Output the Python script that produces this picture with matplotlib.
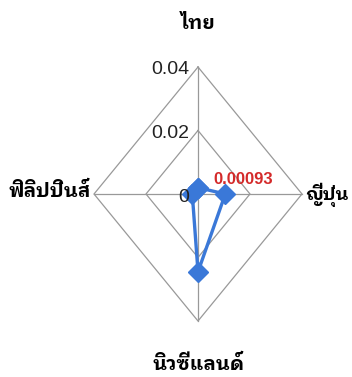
import numpy as np
import matplotlib
matplotlib.use('Agg')
import matplotlib.pyplot as plt

# data
categories = ['ไทย', 'ญี่ปุ่น', 'นิวซีแลนด์', 'ฟิลิปปินส์']
values = [0.002, 0.0105, 0.0245, 0.0022]
rings = [0.02, 0.04]
ring_labels = ['0.02', '0.04']
data_label = '0.00093'

thai_font = ['IBM Plex Sans Thai Looped', 'Noto Sans Thai Looped', 'DejaVu Sans']
num_font = ['Liberation Sans', 'DejaVu Sans']

# layout in pixels (figure is 352x377)
W, H = 352, 377
cx, cy = 198, 183          # centre, from bottom-left
sx = 104 / 0.04            # px per unit horizontally
sy = 127 / 0.04            # px per unit vertically

fig = plt.figure(figsize=(W / 100, H / 100), dpi=100)
ax = fig.add_axes([0, 0, 1, 1])
ax.set_xlim(-cx / sx, (W - cx) / sx)
ax.set_ylim(-cy / sy, (H - cy) / sy)
ax.axis('off')

# angles: top, right, bottom, left
ang = np.pi / 2 - np.arange(len(categories)) * 2 * np.pi / len(categories)
ux, uy = np.cos(ang), np.sin(ang)

grid_col = '#999999'
rmax = rings[-1]
for r in rings:
    ax.plot(np.append(ux, ux[0]) * r, np.append(uy, uy[0]) * r,
            color=grid_col, lw=0.9, zorder=1)
for i in range(len(categories)):
    ax.plot([0, ux[i] * rmax], [0, uy[i] * rmax], color=grid_col, lw=0.9, zorder=1)

# series
v = np.array(values)
ax.plot(np.append(ux * v, ux[0] * v[0]), np.append(uy * v, uy[0] * v[0]),
        color='#3a78d8', lw=2.4, marker='D', markersize=10, zorder=3)

# ring labels
for r, lab in zip(rings, ring_labels):
    ax.text(-0.0035, r - 0.0008, lab, ha='right', va='center', fontsize=14,
            family=num_font, color='#222222')
ax.text(-0.0035, -0.001, '0', ha='right', va='center', fontsize=14,
        family=num_font, color='#222222')

# data label
ax.text(ux[1] * v[1] - 0.0045, uy[1] * v[1] + 0.0045, data_label, ha='left',
        va='center', fontsize=12, fontweight='bold', family=num_font, color='#d42a2a')

# category labels
ax.text(0, 0.0535, categories[0], ha='center', va='center', fontsize=14,
        fontweight='bold', family=thai_font)
ax.text(0.0412, -0.0003, categories[1], ha='left', va='center', fontsize=13,
        fontweight='bold', family=thai_font)
ax.text(0.0003, -0.0538, categories[2], ha='center', va='center', fontsize=14,
        fontweight='bold', family=thai_font)
ax.text(-0.0412, 0.0008, categories[3], ha='right', va='center', fontsize=14,
        fontweight='bold', family=thai_font)

fig.savefig('out.png', dpi=100)
